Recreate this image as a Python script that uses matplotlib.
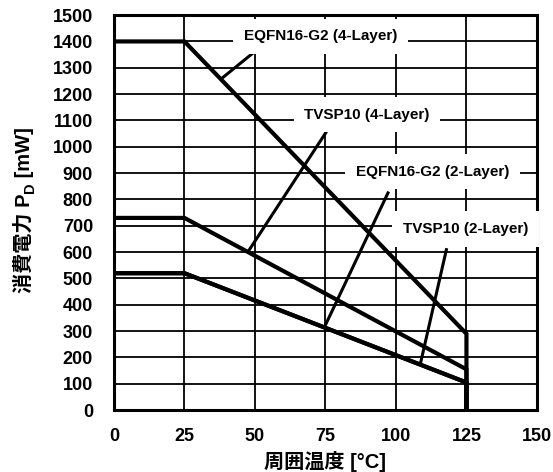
# derating curves, power dissipation vs ambient temperature

# imports
import numpy as np
import matplotlib
matplotlib.use('Agg')
import matplotlib.pyplot as plt

plt.rcParams['font.family'] = ['Liberation Sans', 'Noto Sans CJK JP']
plt.rcParams['font.weight'] = 'bold'

# data
temp = [0, 25, 125, 125]
eqfn_4l = [1400, 1400, 290, 0]
tvsp_4l = [730, 730, 155, 0]
eqfn_2l = [520, 520, 105, 0]
tvsp_2l = [520, 520, 105, 0]

names = ['EQFN16-G2 (4-Layer)', 'TVSP10 (4-Layer)',
         'EQFN16-G2 (2-Layer)', 'TVSP10 (2-Layer)']
series = [eqfn_4l, tvsp_4l, eqfn_2l, tvsp_2l]

# label centres and where the leader leaves each label
label_xy = [(73.2, 1419), (89.7, 1122), (113, 906), (124.6, 688)]
leader_start = [(50, 1362), (75.4, 1058), (97.4, 830), (118, 615)]
leader_end_t = [37.9, 47.5, 74.6, 108.6]

xticks = np.arange(0, 151, 25)
yticks = np.arange(0, 1501, 100)

# figure
W, H = 553, 472
fig = plt.figure(figsize=(W / 100, H / 100), dpi=100)
ax = fig.add_axes([0.206, 0.131, 0.765, 0.837])

for s in series:
    ax.plot(temp, s, color='black', lw=3, solid_capstyle='butt',
            solid_joinstyle='miter', zorder=4, clip_on=False)

for name, xy, st, t, s in zip(names, label_xy, leader_start, leader_end_t, series):
    p = np.interp(t, temp[:3], s[:3])
    ax.plot([st[0], t], [st[1], p], color='black', lw=2.2,
            solid_capstyle='butt', zorder=3)
    ax.text(xy[0], xy[1], name, fontsize=11, fontweight='bold',
            ha='center', va='center', zorder=3.5,
            bbox=dict(boxstyle='square,pad=0.7', fc='white', ec='none'))

ax.set_xlim(0, 150)
ax.set_ylim(0, 1500)
ax.set_xticks(xticks)
ax.set_yticks(yticks)
ax.grid(color='black', lw=1.3)
ax.set_axisbelow(True)
for sp in ax.spines.values():
    sp.set_linewidth(2.2)
ax.tick_params(length=0, labelsize=13)
ax.tick_params(axis='y', pad=15)
ax.tick_params(axis='x', pad=13)
for lab in ax.get_xticklabels() + ax.get_yticklabels():
    lab.set_fontweight('bold')

# y label in pieces (plain text so the CJK fallback works), P with subscript D
renderer = fig.canvas.get_renderer()
bx, by = 30, 293   # baseline x, bottom end of the label, pixels from top-left
parts = [('消費電力 P', 14.5, 0), ('D', 10.5, 4), (' [mW]', 14.5, 0)]
for txt, size, shift in parts:
    t = fig.text((bx + shift) / W, 1 - by / H, txt, rotation=90,
                 rotation_mode='anchor', ha='left', va='baseline',
                 fontsize=size, fontweight='bold')
    by -= t.get_window_extent(renderer).height

fig.text(325 / W, 1 - 461 / H, '周囲温度 [°C]',
         ha='center', va='center', fontsize=14.5, fontweight='bold')

plt.savefig('out.png', dpi=100)
